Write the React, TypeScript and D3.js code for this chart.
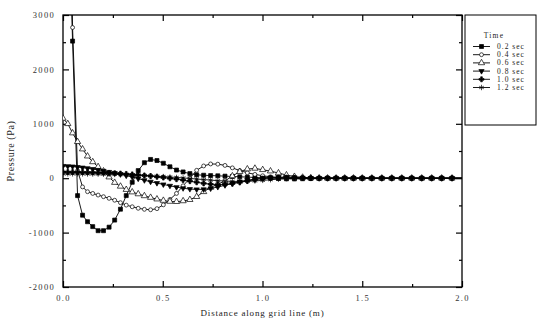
import React, { useRef, useEffect } from "react";
import * as d3 from "d3";

// distance along grid line (m) - stretched grid
const distance = [
  0.0, 0.024, 0.048, 0.073, 0.098, 0.123, 0.149, 0.176, 0.203, 0.231,
  0.259, 0.288, 0.317, 0.347, 0.377, 0.408, 0.439, 0.471, 0.503, 0.536,
  0.569, 0.602, 0.636, 0.67, 0.705, 0.74, 0.776, 0.812, 0.849, 0.886,
  0.924, 0.962, 1.001, 1.04, 1.08, 1.12, 1.16, 1.201, 1.242, 1.284,
  1.326, 1.369, 1.412, 1.456, 1.5, 1.548, 1.598, 1.648, 1.698, 1.748,
  1.798, 1.848, 1.898, 1.95, 2.0,
];

// pressure (Pa) at each time
const p02 = [
  6000, 5400, 2520, -320, -680, -800, -890, -965, -965, -900,
  -770, -570, -320, -75, 140, 285, 345, 325, 275, 210,
  150, 115, 85, 62, 55, 48, 44, 38, 32, 26,
  20, 14, 8, 2, -6, -12, -14, -10, -6, -3,
  0, 0, 0, 0, 0, 0, 0, 0, 0, 0,
  0, 0, 0, 0, 0,
];
const p04 = [
  9000, 9000, 2770, 140, -160, -248, -280, -310, -340, -370,
  -405, -450, -495, -525, -553, -572, -580, -560, -490, -390,
  -280, -140, 0, 145, 225, 262, 258, 235, 190, 140,
  100, 70, 45, 25, 10, 0, -6, -6, -3, 0,
  0, 0, 0, 0, 0, 0, 0, 0, 0, 0,
  0, 0, 0, 0, 0,
];
const p06 = [
  1100, 1000, 830, 670, 535, 405, 300, 210, 130, 20,
  -80, -150, -210, -255, -290, -325, -355, -385, -410, -428,
  -432, -418, -395, -340, -250, -170, -110, -50, 40, 120,
  168, 180, 155, 130, 95, 58, 30, 15, 6, 2,
  0, 0, 0, 0, 0, 0, 0, 0, 0, 0,
  0, 0, 0, 0, 0,
];
const p08 = [
  225, 220, 215, 205, 195, 182, 168, 152, 135, 115,
  95, 72, 48, 22, -8, -38, -65, -90, -115, -140,
  -165, -185, -200, -206, -205, -190, -162, -130, -95, -62,
  -36, -15, 4, 14, 20, 20, 15, 9, 4, 1,
  0, 0, 0, 0, 0, 0, 0, 0, 0, 0,
  0, 0, 0, 0, 0,
];
const p10 = [
  115, 114, 113, 112, 110, 108, 106, 103, 100, 96,
  91, 85, 78, 70, 60, 50, 38, 25, 12, -2,
  -18, -35, -55, -75, -95, -110, -118, -115, -100, -78,
  -52, -28, -8, 4, 10, 10, 7, 4, 2, 0,
  0, 0, 0, 0, 0, 0, 0, 0, 0, 0,
  0, 0, 0, 0, 0,
];
const p12 = [
  80, 80, 80, 80, 79, 78, 77, 76, 74, 72,
  70, 67, 64, 60, 55, 50, 44, 37, 30, 22,
  14, 5, -5, -15, -25, -35, -45, -52, -58, -60,
  -57, -50, -40, -28, -17, -8, -3, 0, 0, 0,
  0, 0, 0, 0, 0, 0, 0, 0, 0, 0,
  0, 0, 0, 0, 0,
];

const seriesNames = ["0.2 sec", "0.4 sec", "0.6 sec", "0.8 sec", "1.0 sec", "1.2 sec"];
const seriesValues = [p02, p04, p06, p08, p10, p12];

const xMajor = [0, 0.5, 1.0, 1.5, 2.0];
const xMinor = [0.25, 0.75, 1.25, 1.75];
const yMajor = [-2000, -1000, 0, 1000, 2000, 3000];
const yMinor = [-1500, -500, 500, 1500, 2500];

const FONT = "'Liberation Serif', 'DejaVu Serif', serif";

// marker look for each series
const markerStyles = [
  { type: d3.symbolSquare, size: 16, fill: "#000", rotate: 0 },
  { type: d3.symbolCircle, size: 12, fill: "#fff", rotate: 0 },
  { type: d3.symbolTriangle, size: 17, fill: "#fff", rotate: 0 },
  { type: d3.symbolTriangle, size: 12, fill: "#000", rotate: 180 },
  { type: d3.symbolCross, size: 14, fill: "#000", rotate: 0 },
  { type: (d3 as any).symbolAsterisk || d3.symbolCross, size: 20, fill: "none", rotate: 0 },
];

const App = () => {
  const svgRef = useRef(null);

  useEffect(() => {
    const svg = d3.select(svgRef.current);
    svg.selectAll("*").remove();

    const left = 63, right = 462, top = 15, bottom = 287;
    const x = d3.scaleLinear().domain([0, 2]).range([left, right]);
    const y = d3.scaleLinear().domain([-2000, 3000]).range([bottom, top]);

    svg.append("defs").append("clipPath").attr("id", "plotclip")
      .append("rect").attr("x", left).attr("y", top)
      .attr("width", right - left).attr("height", bottom - top);

    // tick marks (inward) on all four sides
    const tickStyle = (g) => {
      g.select(".domain").remove();
      g.selectAll("line").attr("stroke", "#000").attr("stroke-width", 1.2);
      g.selectAll("text")
        .attr("font-family", FONT).attr("font-size", 8.5)
        .attr("letter-spacing", 1.3).attr("fill", "#333");
    };

    svg.append("g").attr("transform", `translate(0,${bottom})`)
      .call(d3.axisBottom(x).tickValues(xMajor).tickSizeInner(-6).tickSizeOuter(0)
        .tickPadding(8).tickFormat(d3.format(".1f")))
      .call(tickStyle);
    svg.append("g").attr("transform", `translate(0,${bottom})`)
      .call(d3.axisBottom(x).tickValues(xMinor).tickSizeInner(-3).tickSizeOuter(0).tickFormat(() => ""))
      .call(tickStyle);
    svg.append("g").attr("transform", `translate(0,${top})`)
      .call(d3.axisTop(x).tickValues(xMajor).tickSizeInner(-6).tickSizeOuter(0).tickFormat(() => ""))
      .call(tickStyle);
    svg.append("g").attr("transform", `translate(0,${top})`)
      .call(d3.axisTop(x).tickValues(xMinor).tickSizeInner(-3).tickSizeOuter(0).tickFormat(() => ""))
      .call(tickStyle);

    svg.append("g").attr("transform", `translate(${left},0)`)
      .call(d3.axisLeft(y).tickValues(yMajor).tickSizeInner(-6).tickSizeOuter(0)
        .tickPadding(8).tickFormat((d) => String(d)))
      .call(tickStyle);
    svg.append("g").attr("transform", `translate(${left},0)`)
      .call(d3.axisLeft(y).tickValues(yMinor).tickSizeInner(-3).tickSizeOuter(0).tickFormat(() => ""))
      .call(tickStyle);
    svg.append("g").attr("transform", `translate(${right},0)`)
      .call(d3.axisRight(y).tickValues(yMajor).tickSizeInner(-6).tickSizeOuter(0).tickFormat(() => ""))
      .call(tickStyle);
    svg.append("g").attr("transform", `translate(${right},0)`)
      .call(d3.axisRight(y).tickValues(yMinor).tickSizeInner(-3).tickSizeOuter(0).tickFormat(() => ""))
      .call(tickStyle);

    // frame
    svg.append("rect")
      .attr("x", left).attr("y", top)
      .attr("width", right - left).attr("height", bottom - top)
      .attr("fill", "none").attr("stroke", "#000").attr("stroke-width", 1.3);

    // series
    const plot = svg.append("g").attr("clip-path", "url(#plotclip)");
    const line = d3.line().x((d) => x(d[0])).y((d) => y(d[1]));

    seriesValues.forEach((vals, i) => {
      const pts = distance.map((d, j) => [d, vals[j]]);
      plot.append("path")
        .datum(pts)
        .attr("d", line)
        .attr("fill", "none")
        .attr("stroke", "#000")
        .attr("stroke-width", 0.9);

      const ms = markerStyles[i];
      const sym = d3.symbol().type(ms.type).size(ms.size);
      plot.selectAll(`.m${i}`)
        .data(pts.filter((p) => p[0] < 2))
        .enter()
        .append("path")
        .attr("class", `m${i}`)
        .attr("d", sym)
        .attr("transform", (p) => `translate(${x(p[0])},${y(p[1])}) rotate(${ms.rotate})`)
        .attr("fill", ms.fill)
        .attr("stroke", "#000")
        .attr("stroke-width", 0.7);
    });

    // axis titles
    svg.append("text")
      .attr("x", (left + right) / 2).attr("y", 316)
      .attr("text-anchor", "middle")
      .attr("font-family", FONT).attr("font-size", 9).attr("letter-spacing", 0.8)
      .attr("fill", "#222")
      .text("Distance along grid line (m)");
    svg.append("text")
      .attr("transform", `translate(14,${(top + bottom) / 2}) rotate(-90)`)
      .attr("text-anchor", "middle")
      .attr("font-family", FONT).attr("font-size", 10).attr("letter-spacing", 0.6)
      .attr("fill", "#222")
      .text("Pressure (Pa)");

    // legend
    const lg = svg.append("g");
    lg.append("rect")
      .attr("x", 465).attr("y", 15).attr("width", 71).attr("height", 110)
      .attr("fill", "#fff").attr("stroke", "#000").attr("stroke-width", 1);
    lg.append("text")
      .attr("x", 494).attr("y", 37.5)
      .attr("text-anchor", "middle")
      .attr("font-family", FONT).attr("font-size", 7.5).attr("letter-spacing", 1.2)
      .attr("fill", "#222")
      .text("Time");
    seriesNames.forEach((name, i) => {
      const cy = 46.5 + i * 8.2;
      lg.append("line")
        .attr("x1", 473).attr("x2", 490).attr("y1", cy).attr("y2", cy)
        .attr("stroke", "#000").attr("stroke-width", 0.9);
      const ms = markerStyles[i];
      lg.append("path")
        .attr("d", d3.symbol().type(ms.type).size(ms.size)())
        .attr("transform", `translate(481.5,${cy}) rotate(${ms.rotate})`)
        .attr("fill", ms.fill).attr("stroke", "#000").attr("stroke-width", 0.7);
      lg.append("text")
        .attr("x", 497).attr("y", cy + 2.5)
        .attr("font-family", FONT).attr("font-size", 7.5).attr("letter-spacing", 1)
        .attr("fill", "#222")
        .text(name);
    });
  }, []);

  return (
    <svg
      ref={svgRef}
      width={537}
      height={325}
      style={{ position: "absolute", left: 0, top: 0, background: "#fff" }}
    />
  );
};

export default App;
